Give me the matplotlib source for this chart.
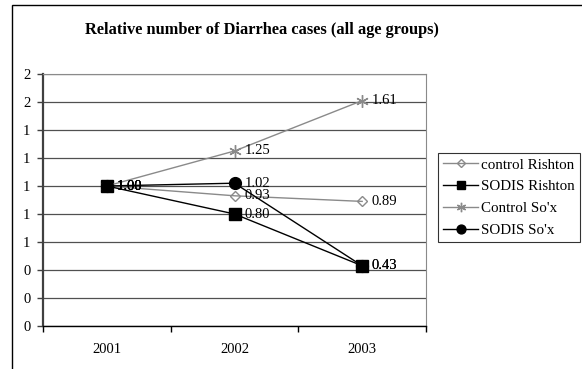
import matplotlib
matplotlib.use("Agg")
import matplotlib.pyplot as plt
from matplotlib.patches import Rectangle
from matplotlib.ticker import FixedLocator, FuncFormatter, MultipleLocator

plt.rcParams['font.family'] = ['Liberation Serif', 'DejaVu Serif']

years = ["2001", "2002", "2003"]
control_rishton = [1.00, 0.93, 0.89]
sodis_rishton = [1.00, 0.80, 0.43]
control_sox = [1.00, 1.25, 1.61]
sodis_sox = [1.00, 1.02, 0.43]

title = "Relative number of Diarrhea cases (all age groups)"

W, H = 582, 369
fig = plt.figure(figsize=(W / 100, H / 100), dpi=100)
fig.patch.set_facecolor("white")

# outer chart frame (extends past the right and bottom edges)
fig.add_artist(Rectangle((12 / W, -0.2), 1.2, 1.2 - 4.5 / H,
                         transform=fig.transFigure, fill=False,
                         edgecolor="black", linewidth=1.0))

ax = fig.add_axes([43 / W, (H - 326) / H, (426 - 43) / W, (326 - 74) / H])

x = [1, 2, 3]
GRAY = "#8a8a8a"

series = [
    ("control Rishton", control_rishton, GRAY, "D", "none", 5.5),
    ("SODIS Rishton", sodis_rishton, "black", "s", "black", 8.5),
    ("Control So'x", control_sox, GRAY, (6, 2, 0), GRAY, 9),
    ("SODIS So'x", sodis_sox, "black", "o", "black", 8.5),
]

for name, vals, col, mk, fc, ms in series:
    ax.plot(x, vals, color=col, linewidth=1.0, marker=mk, markersize=ms,
            markerfacecolor=fc, markeredgecolor=col, markeredgewidth=1.0,
            label=name, zorder=3)

# value labels to the right of each point
label_fs = 10.5
for name, vals, col, mk, fc, ms in series:
    for xi, v in zip(x, vals):
        ax.annotate(f"{v:.2f}", (xi, v), xytext=(7, 0), textcoords="offset points",
                    ha="left", va="center", fontsize=label_fs, color="black",
                    zorder=4)

ax.set_xlim(0.5, 3.5)
ax.set_ylim(0, 1.8)
ax.yaxis.set_major_locator(MultipleLocator(0.2))
ax.yaxis.set_major_formatter(FuncFormatter(lambda v, p: f"{round(v + 1e-9):d}"))

ax.xaxis.set_major_locator(FixedLocator([0.5, 1.5, 2.5, 3.5]))
ax.xaxis.set_major_formatter(FuncFormatter(lambda v, p: ""))
ax.set_xticks(x, minor=True)
ax.set_xticklabels(years, minor=True)
ax.tick_params(axis="x", which="minor", length=0, pad=12, labelsize=label_fs)
ax.tick_params(axis="x", which="major", length=4, direction="out", width=1.0,
               color="black")
ax.tick_params(axis="y", which="major", length=4, direction="out", width=1.0,
               color="#404040", labelsize=label_fs, pad=5)

ax.grid(axis="y", color="#505050", linewidth=0.9, zorder=0)
ax.set_axisbelow(True)

ax.spines["left"].set_color("#404040")
ax.spines["left"].set_linewidth(1.6)
ax.spines["bottom"].set_color("black")
ax.spines["bottom"].set_linewidth(1.0)
ax.spines["top"].set_color(GRAY)
ax.spines["right"].set_color(GRAY)

fig.text(0.5 * (87 + 437) / W, 1 - 30 / H, title, ha="center", va="center",
         fontsize=11.8, fontweight="bold")

leg = ax.legend(loc="upper left", bbox_to_anchor=(438 / W, 1 - 153 / H),
                bbox_transform=fig.transFigure, frameon=True, fancybox=False,
                edgecolor="black", fontsize=10.8, borderpad=0.35,
                labelspacing=0.55, handlelength=2.3, handletextpad=0.2,
                borderaxespad=0, markerscale=0.75)
leg.get_frame().set_linewidth(0.8)

fig.savefig("out.png", dpi=100, facecolor="white")
